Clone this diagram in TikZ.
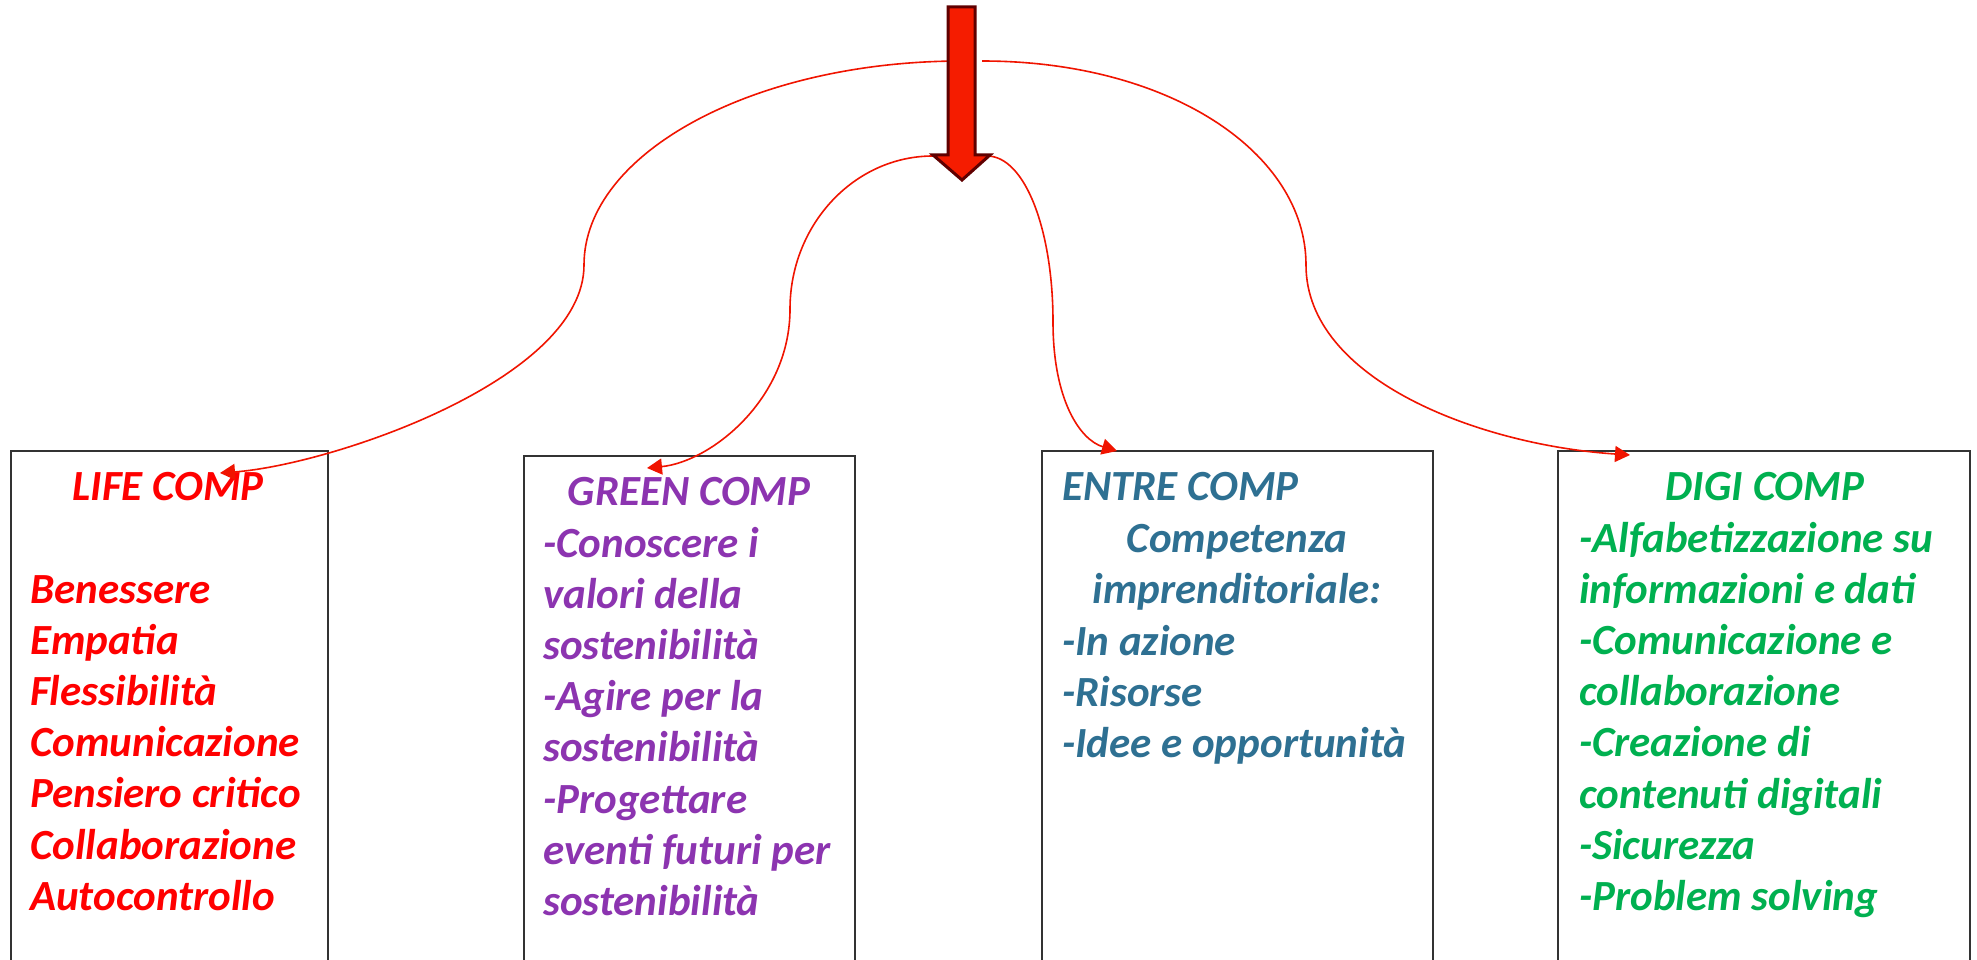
\documentclass[tikz,border=0pt]{standalone}
\usepackage{fontspec}
\setmainfont{Carlito}
\usetikzlibrary{arrows.meta}
\definecolor{lifecol}{RGB}{255,0,0}
\definecolor{greencompcol}{RGB}{140,52,176}
\definecolor{entrecol}{RGB}{46,112,146}
\definecolor{digicol}{RGB}{0,176,80}
\definecolor{arrowfill}{RGB}{245,28,0}
\definecolor{arrowedge}{RGB}{96,0,0}
\definecolor{connred}{RGB}{240,20,0}
\begin{document}
\begin{tikzpicture}[x=1pt,y=-1pt,
  compbox/.style={draw=black!80, line width=1.5pt, rectangle, anchor=north west, inner sep=0pt},
  txt/.style={font=\fontsize{43}{51}\selectfont\bfseries\itshape, inner sep=0pt},
  lifetxt/.style={txt, text=lifecol},
  greentxt/.style={txt, text=greencompcol},
  entretxt/.style={txt, text=entrecol},
  digitxt/.style={txt, text=digicol},
  conn/.style={draw=connred, line width=1.6pt, -{Triangle[length=15pt,width=16pt]}}
]
\clip (0,0) rectangle (1977,960);
\fill[white] (0,0) rectangle (1977,960);

% boxes
\node[compbox, minimum width=317pt, minimum height=560pt] (life) at (10,450) {};
\node[compbox, minimum width=331pt, minimum height=560pt] (green) at (523,455) {};
\node[compbox, minimum width=391pt, minimum height=560pt] (entre) at (1041,450) {};
\node[compbox, minimum width=412pt, minimum height=560pt] (digi) at (1557,450) {};

% LIFE COMP
\node[lifetxt, anchor=base] (lifetitle) at (168,500) {LIFE COMP};
\foreach \t [count=\i] in {Benessere,Empatia,Flessibilità,Comunicazione,Pensiero critico,Collaborazione,Autocontrollo}
  \node[lifetxt, anchor=base west] (life-\i) at (30,{603+51.2*(\i-1)}) {\t};

% GREEN COMP
\node[greentxt, anchor=base] (greentitle) at (689,505) {GREEN COMP};
\foreach \t [count=\i] in {-Conoscere i,valori della,sostenibilità,-Agire per la,sostenibilità,-Progettare,eventi futuri per,sostenibilità}
  \node[greentxt, anchor=base west] (green-\i) at (543,{557+51.2*(\i-1)}) {\t};

% ENTRE COMP
\node[entretxt, anchor=base west] (entretitle) at (1062,500) {ENTRE COMP};
\node[entretxt, anchor=base] (entre-1) at (1237,552) {Competenza};
\node[entretxt, anchor=base] (entre-2) at (1237,603) {imprenditoriale:};
\foreach \t [count=\i from 3] in {-In azione,-Risorse,-Idee e opportunità}
  \node[entretxt, anchor=base west] (entre-\i) at (1062,{655+51.2*(\i-3)}) {\t};

% DIGI COMP
\node[digitxt, anchor=base] (digititle) at (1765,500) {DIGI COMP};
\foreach \t [count=\i] in {-Alfabetizzazione su,informazioni e dati,-Comunicazione e,collaborazione,-Creazione di,contenuti digitali,-Sicurezza,-Problem solving}
  \node[digitxt, anchor=base west] (digi-\i) at (1579,{552+51.2*(\i-1)}) {\t};

% connector end points
\coordinate (s1) at (962,61);
\coordinate (s2) at (982,61);
\coordinate (s3) at (933,156);
\coordinate (s4) at (987,156);
\coordinate (m1) at (584,265);
\coordinate (m2) at (1306,265);
\coordinate (m3) at (790,309);
\coordinate (m4) at (1053,322);
\coordinate (t1) at (220,473);
\coordinate (t2) at (1630,455);
\coordinate (t3) at (647,468);
\coordinate (t4) at (1117,451);

% connectors
\draw[conn] (s1) .. controls (754,61) and (584,153) .. (m1) .. controls (584,380) and (330,465) .. (t1);
\draw[conn] (s2) .. controls (1170,61) and (1306,153) .. (m2) .. controls (1306,380) and (1480,445) .. (t2);
\draw[conn] (s3) .. controls (854,156) and (790,225) .. (m3) .. controls (790,400) and (710,462) .. (t3);
\draw[conn] (s4) .. controls (1025,156) and (1053,230) .. (m4) .. controls (1053,400) and (1080,440) .. (t4);

% big arrow
\draw[fill=arrowfill, draw=arrowedge, line width=3pt, line join=miter]
  (948,7) -- (975,7) -- (975,155) -- (990,155) -- (962,180) -- (933,155) -- (948,155) -- cycle;
\end{tikzpicture}
\end{document}
